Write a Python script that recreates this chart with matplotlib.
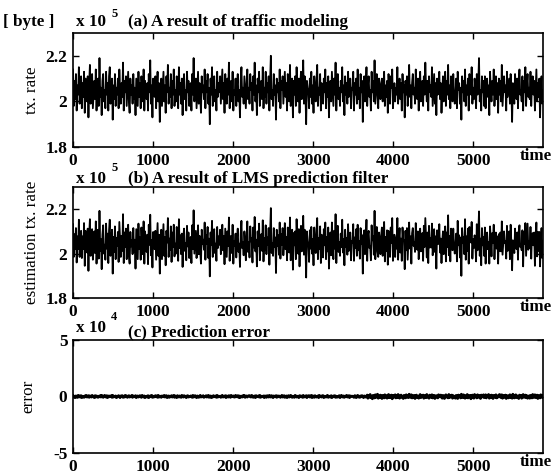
import numpy as np
import matplotlib.pyplot as plt

# tx. rate, in kbytes
tx_rate = [
    214,198,209,201,212,196,207,203,215,199,206,211,197,208,202,213,195,210,204,200,
    211,193,208,216,199,205,212,197,203,209,201,214,196,207,210,198,219,202,206,194,
    209,212,200,205,197,213,203,208,196,211,215,199,204,210,192,207,201,212,198,206,
    203,210,197,214,205,199,208,202,217,196,209,204,211,198,206,213,200,195,210,203,
    207,199,212,201,206,194,210,204,198,213,202,208,197,211,205,200,214,196,209,203,
    201,208,196,212,204,218,199,207,193,210,205,202,211,197,206,213,200,208,191,204,
    210,198,205,213,200,207,195,211,204,216,199,206,202,212,197,209,203,214,198,205,
    200,211,206,197,215,203,208,199,210,194,207,212,201,205,196,213,204,209,198,202,
    208,196,212,203,219,200,206,210,197,205,213,199,208,202,195,211,204,207,201,214,
    197,209,204,212,199,206,190,210,203,215,198,207,211,200,205,196,213,202,208,204,
    211,199,206,214,201,208,195,212,204,199,210,203,217,197,206,209,200,213,196,205,
    203,210,198,207,212,200,205,193,209,215,202,206,199,211,204,197,208,214,201,206,
    199,212,205,208,196,211,203,217,200,207,194,210,204,213,198,206,209,201,215,197,
    206,202,213,199,208,204,211,196,209,220,201,205,198,212,203,207,192,210,204,208,
    200,214,197,209,205,211,199,206,213,202,208,196,212,204,200,216,198,207,210,193,
    209,203,211,198,215,205,200,210,195,208,213,201,206,218,199,211,204,190,209,206,
    204,197,210,202,213,199,207,195,211,205,200,209,216,198,206,203,212,196,208,201,
    199,210,204,214,197,208,202,211,193,206,209,200,213,205,198,210,203,217,196,207,
    212,201,206,198,209,204,215,200,207,194,211,203,208,199,213,202,205,210,197,206,
    205,213,196,208,203,210,199,214,201,206,197,212,204,209,191,207,211,200,205,215,
    198,207,211,202,205,196,213,204,209,200,218,199,206,212,203,197,210,205,201,208,
    210,200,205,213,198,207,202,209,195,212,204,199,211,206,214,197,203,208,200,206,
    203,215,199,206,210,201,208,196,212,204,207,193,209,203,211,198,205,216,202,207,
    197,208,212,203,206,199,214,205,201,210,196,207,213,200,204,209,198,211,203,217,
    206,200,209,196,211,204,207,202,215,198,205,212,199,208,194,210,203,206,213,201,
    208,195,204,211,200,206,213,198,209,203,216,201,207,197,211,205,200,212,204,199,
    202,210,197,213,205,208,199,206,192,211,204,209,200,214,198,207,203,210,196,212,
    207,203,215,199,206,201,210,205,197,212,203,208,219,200,205,196,211,204,209,198,
    211,197,206,210,202,207,194,213,205,200,209,203,214,198,206,211,201,208,195,210,
    203,209,200,216,198,205,211,204,207,196,213,202,206,210,199,212,205,191,208,204,
    199,212,206,201,210,197,208,214,203,205,200,211,196,209,204,215,198,207,212,202,
    206,201,213,198,207,211,203,209,196,205,214,200,208,202,210,193,206,211,199,205,
]

# prediction error, in units of 250 bytes (panel (c))
pred_err = [
    3,-2,1,-4,2,0,-3,4,-1,2,-2,3,-4,1,0,-3,2,-1,4,-2,
    -1,3,-3,2,0,-2,4,-1,1,-4,3,-2,2,0,-3,1,-1,3,-2,4,
    2,-3,0,4,-1,-2,3,-4,1,2,-1,0,3,-3,4,-2,1,-1,2,-4,
    -2,1,3,-1,-4,2,0,3,-3,1,-2,4,-1,2,-3,0,3,-2,1,-1,
    4,-3,2,0,-1,3,-4,1,2,-2,0,3,-1,-3,4,1,-2,2,-4,0,
    1,-2,3,-4,0,2,-1,4,-3,1,-2,0,3,-1,2,-3,4,-2,0,1,
    -3,2,0,-1,4,-2,1,3,-4,0,2,-3,1,-1,3,-2,0,4,-3,2,
    0,-4,3,1,-2,2,-1,-3,4,0,-2,3,-1,1,-4,2,3,-2,0,-1,
    2,1,-3,4,-2,0,3,-1,-4,2,1,-3,0,4,-2,1,-1,3,-3,0,
    -1,3,-2,0,4,-3,1,2,-4,1,-2,3,0,-1,2,-3,4,-2,1,0,
    1,-3,2,4,-2,0,-1,3,-4,2,0,-2,3,1,-3,4,-1,0,2,-2,
    -2,4,-1,0,3,-3,2,-4,1,1,-2,3,-1,4,-3,0,2,-2,1,3,
    3,-1,-2,4,0,-3,1,2,-4,3,-1,0,2,-2,4,-3,1,-1,0,2,
    -4,2,1,-3,3,0,-2,4,-1,-2,3,1,-4,2,0,-1,3,-3,2,-1,
    2,0,-3,1,4,-2,-1,3,-3,0,2,-4,1,3,-2,-1,4,0,-3,1,
    -1,-3,4,2,-2,1,0,-4,3,-1,2,0,-3,4,-2,1,-1,3,-4,2,
    0,3,-2,-1,4,-4,2,1,-3,3,-1,-2,0,2,-4,4,-1,1,-2,3,
    3,-4,1,0,-2,2,4,-3,-1,1,-2,3,-4,0,2,-1,3,-3,1,-2,
    -2,1,3,-4,0,4,-1,-2,2,-3,1,0,4,-2,-1,3,-4,2,0,1,
    1,-1,-3,3,2,-4,0,4,-2,1,-3,2,-1,3,0,-4,2,1,-2,-1,
    5,-6,3,-2,7,-4,1,-8,4,2,-5,6,-3,0,8,-6,2,-4,5,-1,
    -7,4,1,-5,6,-2,3,-6,0,7,-4,2,-3,5,-8,1,4,-2,6,-5,
    3,-4,7,-1,-6,2,5,-3,1,-7,4,0,-5,6,-2,3,-4,8,-1,-3,
    6,-5,2,-2,4,-7,1,5,-3,0,-6,3,7,-4,2,-1,5,-6,0,4,
    -4,7,-2,1,-6,5,0,-3,6,-5,2,4,-7,1,3,-2,-5,6,-1,2,
    5,-3,-6,4,1,-7,3,6,-2,0,-5,7,-4,2,-1,5,-6,3,0,-4,
    -6,4,2,-7,5,-1,3,-5,8,-2,-4,6,1,-6,3,-3,7,-5,2,0,
    4,-8,3,5,-2,-6,7,-1,2,-5,6,-3,0,4,-7,5,-2,1,6,-4,
    -3,6,-5,2,0,7,-6,3,-4,5,-1,-7,4,2,-3,6,-5,1,-2,5,
    7,-2,-4,6,-6,1,4,-3,5,-7,2,3,-5,0,6,-4,1,-6,8,-2,
    -5,3,6,-4,2,-1,-7,5,0,4,-6,2,7,-3,-2,5,-4,3,-6,1,
    2,-6,4,1,-5,7,-3,-2,6,-4,0,5,-7,3,1,-5,6,-2,4,-3,
]

t_end = 5870
xticks = [0, 1000, 2000, 3000, 4000, 5000]

tx = np.array(tx_rate) / 100.0            # x 10^5 bytes
err = np.array(pred_err) * 250.0           # bytes
est = tx - err / 1e5                       # x 10^5 bytes
T = np.linspace(0, t_end, len(tx))

plt.rcParams['font.family'] = 'Liberation Serif'
plt.rcParams['axes.unicode_minus'] = False

FS = 12.3
W, H = 553, 474
fig = plt.figure(figsize=(W / 100, H / 100), dpi=100)

def box(left, top, right, bottom):
    return [left / W, 1 - bottom / H, (right - left) / W, (bottom - top) / H]

def ptxt(x, y, s, size=FS, **kw):
    fig.text(x / W, 1 - y / H, s, fontsize=size, fontweight='bold', **kw)

def style(ax, yticks, ylim):
    ax.set_xlim(0, t_end)
    ax.set_ylim(*ylim)
    ax.set_xticks(xticks)
    ax.set_yticks(yticks)
    ax.tick_params(direction='in', top=True, right=True, length=4, width=1,
                   labelsize=12.5, pad=4)
    for lab in ax.get_xticklabels() + ax.get_yticklabels():
        lab.set_fontweight('bold')
    for s in ax.spines.values():
        s.set_linewidth(1.2)
    ax.text(0.985, -0.08, 'time', transform=ax.transAxes, ha='center',
            va='center', fontsize=FS, fontweight='bold')

ax1 = fig.add_axes(box(73, 33, 543, 147))
ax1.plot(T, tx, color='k', lw=1.3)
style(ax1, [1.8, 2, 2.2], (1.8, 2.3))
ax1.set_yticklabels(['1.8', '2', '2.2'])
ax1.set_ylabel('tx. rate', fontsize=FS, labelpad=4)

ax2 = fig.add_axes(box(73, 187, 543, 298))
ax2.plot(T, est, color='k', lw=1.3)
style(ax2, [1.8, 2, 2.2], (1.8, 2.3))
ax2.set_yticklabels(['1.8', '2', '2.2'])
ax2.set_ylabel('estimation tx. rate', fontsize=FS, labelpad=4)

ax3 = fig.add_axes(box(73, 340, 543, 453))
ax3.plot(T, err / 1e4, color='k', lw=2.0)
style(ax3, [-5, 0, 5], (-5, 5))
ax3.set_ylabel('error', fontsize=FS, labelpad=12)

# headers
ptxt(3, 22, '[ byte ]', va='center')
ptxt(76, 22, 'x 10', va='center')
ptxt(111, 14, '5', size=9, va='center')
ptxt(128, 22, '(a) A result of traffic modeling', va='center')

ptxt(76, 179, 'x 10', va='center')
ptxt(111, 168, '5', size=9, va='center')
ptxt(128, 179, '(b) A result of LMS prediction filter', va='center')

ptxt(76, 328, 'x 10', va='center')
ptxt(111, 317, '4', size=9, va='center')
ptxt(128, 332, '(c) Prediction error', va='center')

fig.savefig('out.png', dpi=100)
